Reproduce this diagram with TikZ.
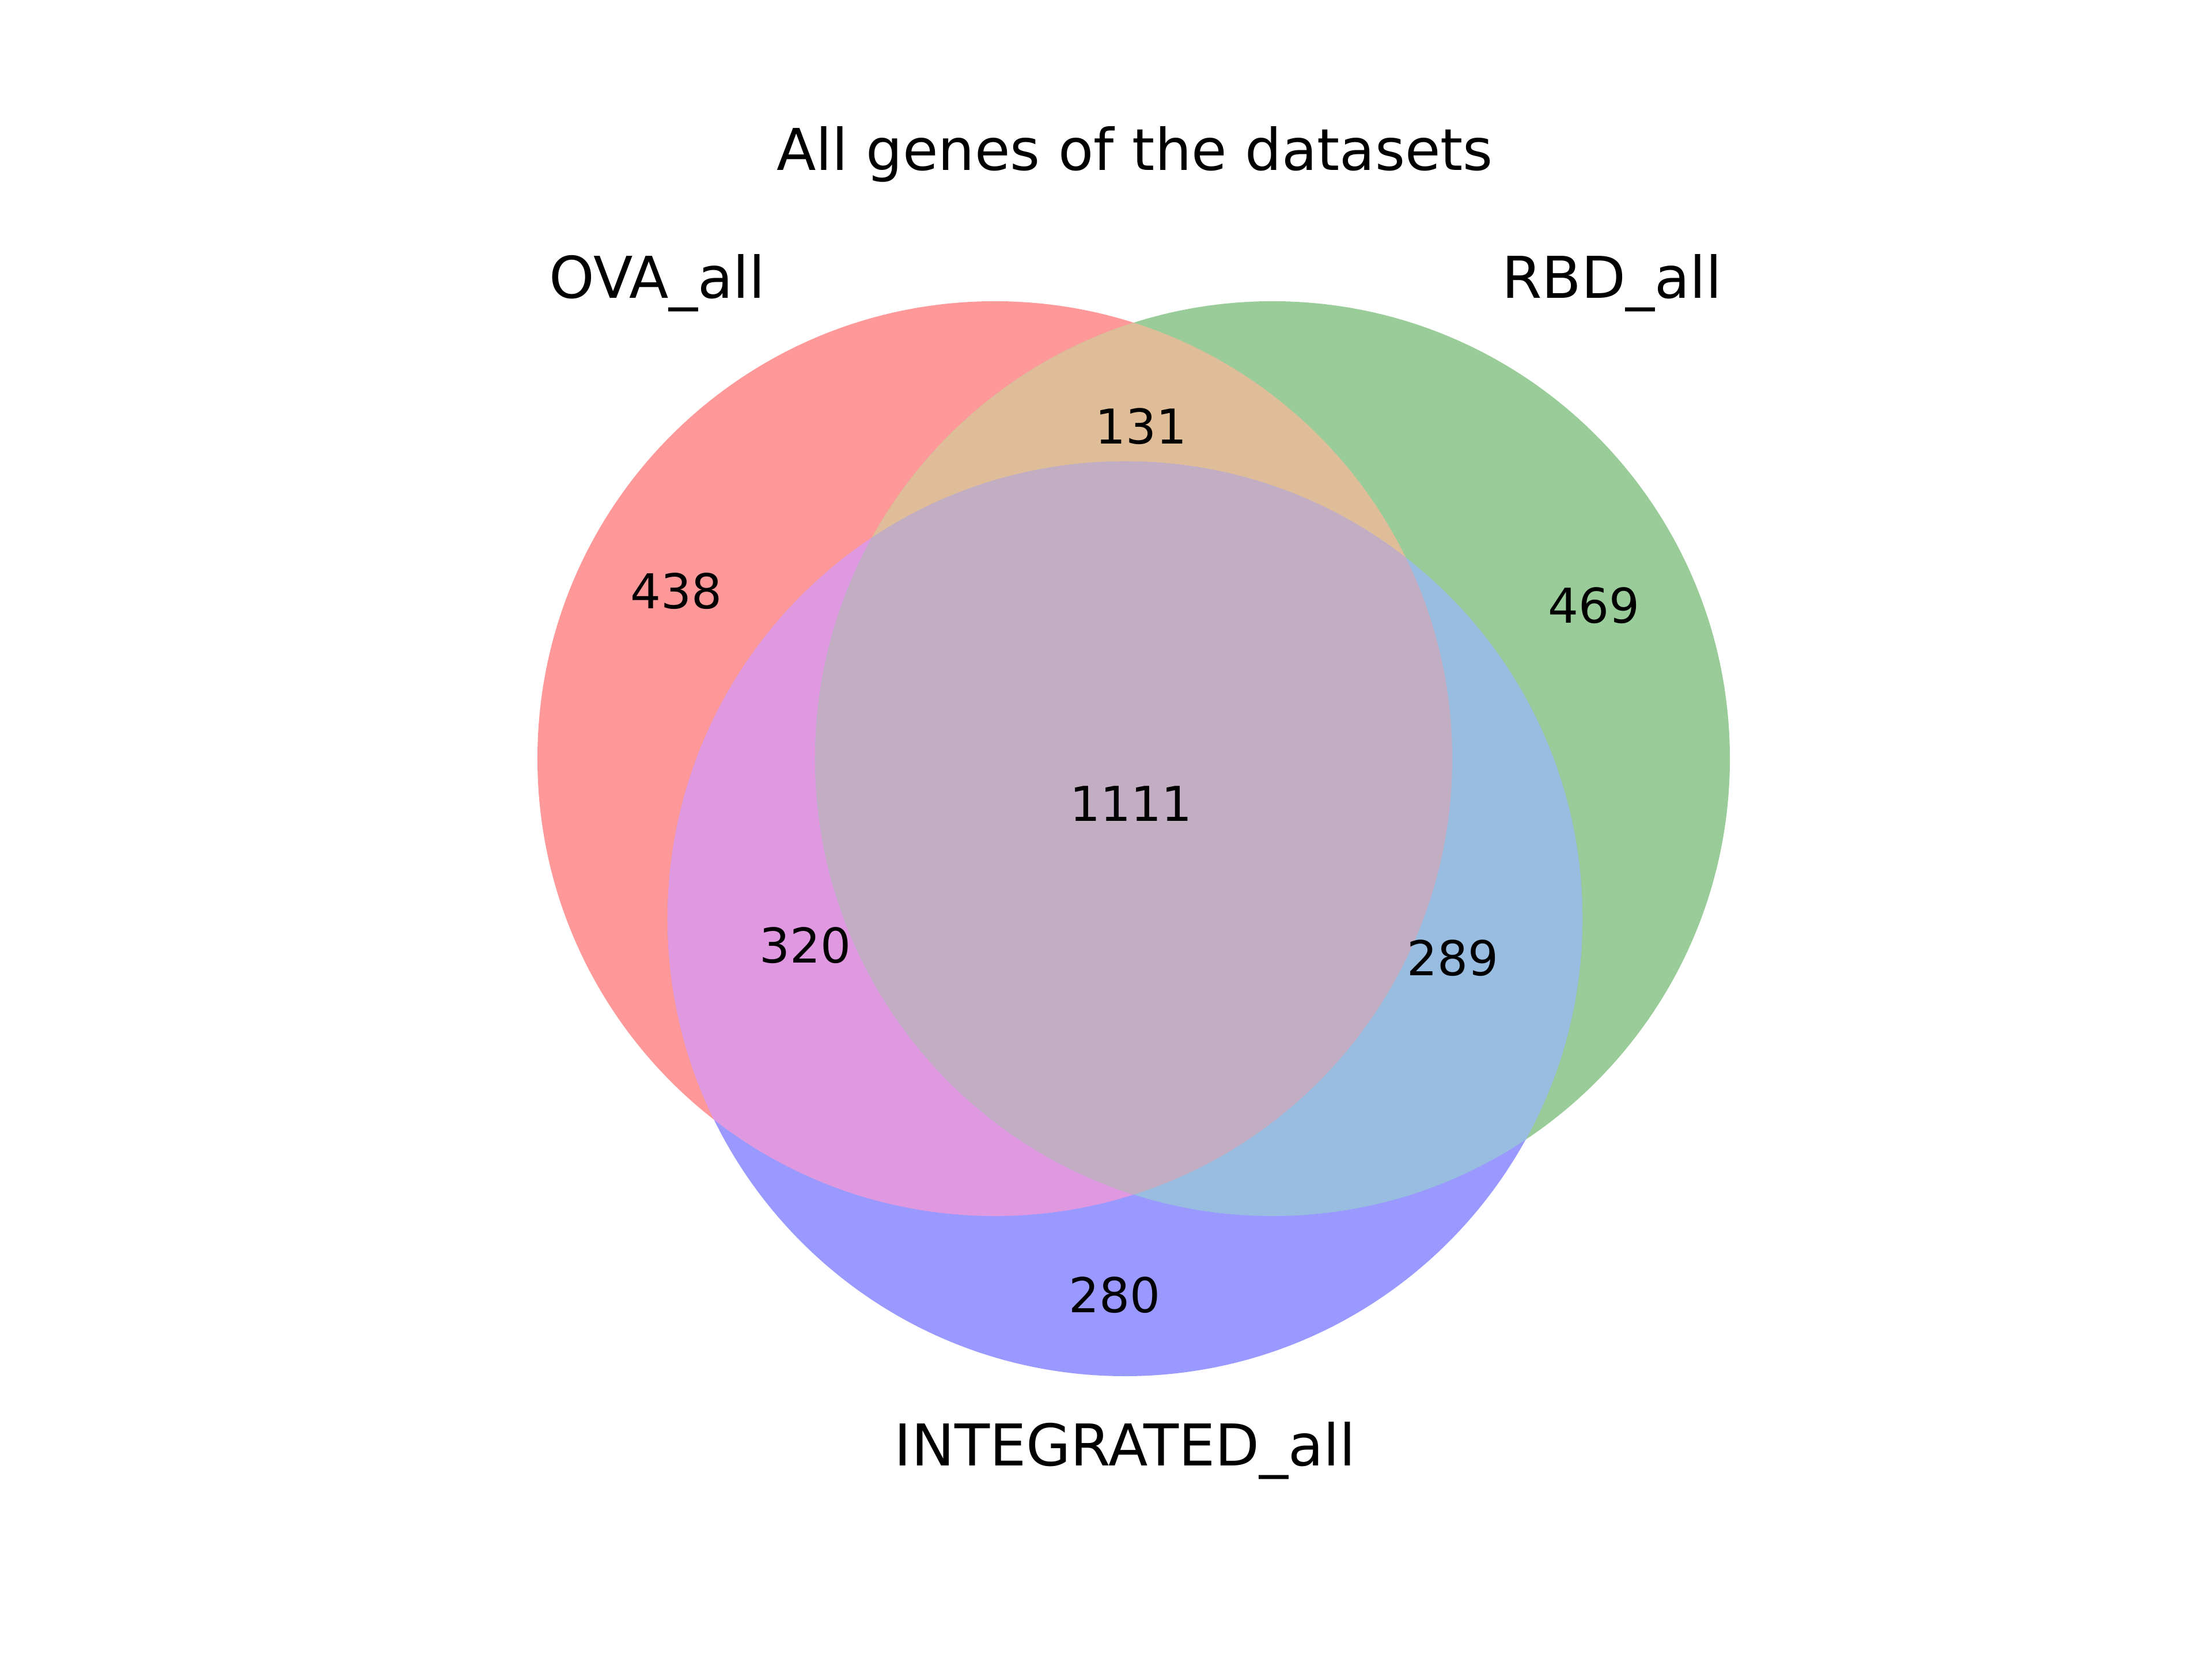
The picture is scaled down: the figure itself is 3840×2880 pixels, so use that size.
\documentclass[tikz,border=0pt]{standalone}
\usepackage{fontspec}
\setmainfont{DejaVu Sans}
\definecolor{cA}{RGB}{255,153,153}
\definecolor{cB}{RGB}{153,204,153}
\definecolor{cC}{RGB}{153,153,255}
\definecolor{cAB}{RGB}{224,189,153}
\definecolor{cAC}{RGB}{224,153,224}
\definecolor{cBC}{RGB}{153,189,224}
\definecolor{cABC}{RGB}{194,173,194}
\tikzset{
  setlabel/.style={anchor=base, inner sep=0pt, font=\fontsize{12}{14}\selectfont},
  titlelabel/.style={anchor=base, inner sep=0pt, font=\fontsize{12}{14}\selectfont},
  count/.style={anchor=center, inner sep=0pt, font=\fontsize{10}{12}\selectfont}
}
\def\rad{95.28pt}
\begin{document}
\begin{tikzpicture}[x=0.12pt, y=-0.12pt]
\useasboundingbox (0,0) rectangle (3840,2880);
\coordinate (A) at (1727,1317);
\coordinate (B) at (2209,1317);
\coordinate (C) at (1953,1595);
% single regions
\fill[cA] (A) circle[radius=\rad];
\fill[cB] (B) circle[radius=\rad];
\fill[cC] (C) circle[radius=\rad];
% pairwise
\begin{scope}
  \clip (A) circle[radius=\rad];
  \fill[cAB] (B) circle[radius=\rad];
\end{scope}
\begin{scope}
  \clip (A) circle[radius=\rad];
  \fill[cAC] (C) circle[radius=\rad];
\end{scope}
\begin{scope}
  \clip (B) circle[radius=\rad];
  \fill[cBC] (C) circle[radius=\rad];
\end{scope}
% triple
\begin{scope}
  \clip (A) circle[radius=\rad];
  \clip (B) circle[radius=\rad];
  \fill[cABC] (C) circle[radius=\rad];
\end{scope}
% texts
\node[titlelabel] (title) at (1970,296) {All genes of the datasets};
\node[setlabel] (ova) at (1141,518) {OVA\_all};
\node[setlabel] (rbd) at (2798,518) {RBD\_all};
\node[setlabel] (int) at (1953,2545) {INTEGRATED\_all};
\node[count] (n131) at (1981,740) {131};
\node[count] (n438) at (1174,1026) {438};
\node[count] (n469) at (2767,1051) {469};
\node[count] (n1111) at (1964,1395) {1111};
\node[count] (n320) at (1398,1641) {320};
\node[count] (n289) at (2522,1663) {289};
\node[count] (n280) at (1935,2248) {280};
\end{tikzpicture}
\end{document}
